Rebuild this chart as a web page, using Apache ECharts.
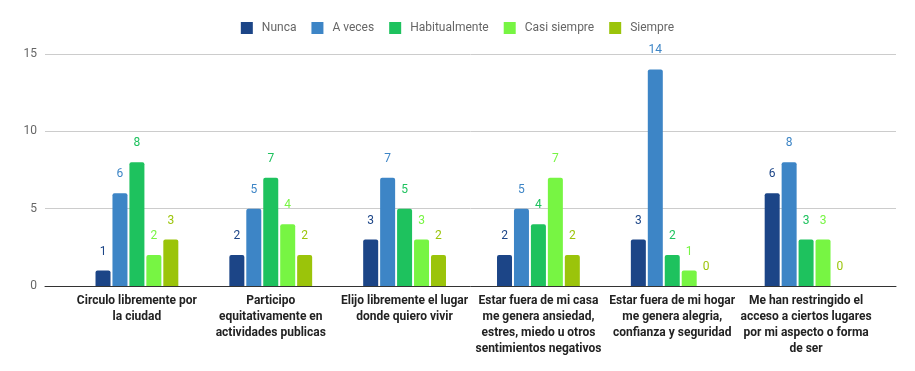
<!DOCTYPE html>
<html><head><meta charset="utf-8">
<script src="https://cdn.jsdelivr.net/npm/echarts@6/dist/echarts.min.js"></script>
<style>html,body{margin:0;padding:0;background:#fff}#c{width:915px;height:371px}</style>
</head><body><div id="c"></div>
<script>
const categories = [
  "Circulo libremente por\nla ciudad",
  "Participo\nequitativamente en\nactividades publicas",
  "Elijo libremente el lugar\ndonde quiero vivir",
  "Estar fuera de mi casa\nme genera ansiedad,\nestres, miedo u otros\nsentimientos negativos",
  "Estar fuera de mi hogar\nme genera alegria,\nconfianza y seguridad",
  "Me han restringido el\nacceso a ciertos lugares\npor mi aspecto o forma\nde ser"
];
const seriesNames = ["Nunca", "A veces", "Habitualmente", "Casi siempre", "Siempre"];
const nunca = [1, 2, 3, 2, 3, 6];
const aVeces = [6, 5, 7, 5, 14, 8];
const habitualmente = [8, 7, 5, 4, 2, 3];
const casiSiempre = [2, 4, 3, 7, 1, 3];
const siempre = [3, 2, 2, 2, 0, 0];
const yTicks = [0, 5, 10, 15];

const colors = ["#1c4587", "#3d85c6", "#1ec25e", "#77f543", "#9bc40a"];
const labelColors = ["#1c4587", "#3d85c6", "#1ec25e", "#77f543", "#9bc40a"];
const values = [nunca, aVeces, habitualmente, casiSiempre, siempre];

const chart = echarts.init(document.getElementById('c'));
chart.setOption({
  animation: false,
  textStyle: { fontFamily: 'Roboto' },
  legend: {
    top: 17, left: 'center',
    itemWidth: 12, itemHeight: 12, itemGap: 15,
    icon: 'rect',
    textStyle: { color: '#666', fontSize: 12, fontFamily: 'Roboto', padding: [0, 0, 0, 4] },
    data: seriesNames
  },
  grid: [
    { left: 45, right: 19, top: 54, bottom: 85 },
    { left: 70, right: 42, top: 54, bottom: 85 }
  ],
  xAxis: [
    { gridIndex: 0, type: 'value', min: 0, max: 1, show: true,
      axisLine: { show: true, onZero: false, lineStyle: { color: '#333', width: 1 } },
      axisTick: { show: false }, axisLabel: { show: false }, splitLine: { show: false } },
    { gridIndex: 1, type: 'category', data: categories,
      axisLine: { show: false }, axisTick: { show: false },
      axisLabel: { interval: 0, color: '#222', fontWeight: 'bold', fontSize: 12,
        fontFamily: 'Roboto', lineHeight: 16, margin: 7 } }
  ],
  yAxis: [
    { gridIndex: 0, type: 'value', min: yTicks[0], max: yTicks[yTicks.length - 1], interval: 5,
      axisLine: { show: false }, axisTick: { show: false },
      axisLabel: { color: '#666', fontSize: 12, margin: 8 },
      splitLine: { lineStyle: { color: '#ccc', width: 1 } } },
    { gridIndex: 1, type: 'value', min: yTicks[0], max: yTicks[yTicks.length - 1], interval: 5,
      show: false, splitLine: { show: false } }
  ],
  series: seriesNames.map((n, i) => ({
    name: n, type: 'bar', xAxisIndex: 1, yAxisIndex: 1,
    data: values[i],
    barWidth: 15, barGap: '13%',
    itemStyle: { color: colors[i], borderRadius: [2, 2, 0, 0] },
    label: { show: true, position: 'top', distance: 13, color: labelColors[i],
      fontSize: 12, fontFamily: 'Roboto' }
  }))
});
</script></body></html>
